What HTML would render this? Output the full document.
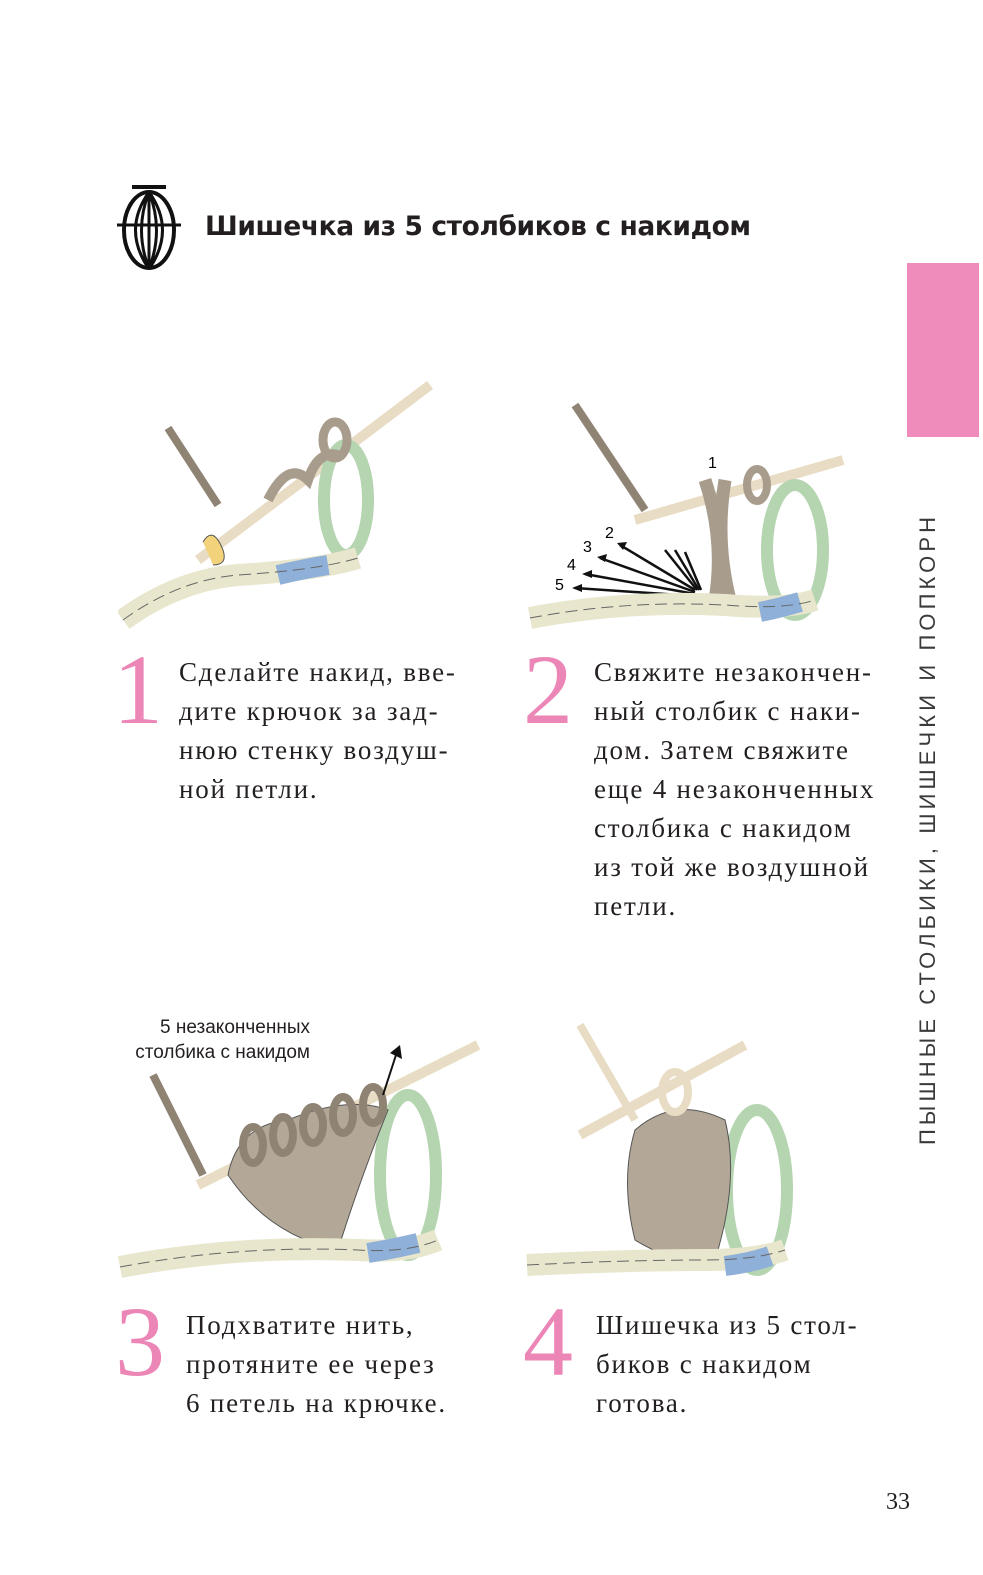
<!DOCTYPE html>
<html><head><meta charset="utf-8"><style>
html,body{margin:0;padding:0;background:#fff;}
body{width:983px;height:1575px;position:relative;overflow:hidden;font-family:"Liberation Serif",serif;color:#231f20;}
.abs{position:absolute;}
.title{left:205px;top:211px;font-family:"DejaVu Sans","Liberation Sans",sans-serif;font-weight:bold;font-size:26.5px;letter-spacing:-0.4px;}
.tab{left:907px;top:263px;width:72px;height:174px;background:#f08cbb;}
.vert{left:928px;top:515px;width:630px;height:26px;transform-origin:0 0;transform:translate(-13px,630px) rotate(-90deg);font-family:"Liberation Sans",sans-serif;font-size:22px;letter-spacing:4.1px;color:#3a3a3a;white-space:nowrap;}
.num{font-family:"Liberation Serif",serif;color:#ec86b6;font-size:100px;line-height:100px;}
.txt{font-size:27px;letter-spacing:1.8px;line-height:39px;white-space:nowrap;}
.lbl{font-family:"Liberation Sans",sans-serif;font-size:19px;line-height:25px;text-align:right;}
</style></head><body>

<svg class="abs" style="left:114px;top:183px" width="70" height="92" viewBox="0 0 70 92">
<line x1="18" y1="4" x2="52" y2="4" stroke="#111" stroke-width="4"/>
<ellipse cx="35" cy="47" rx="25" ry="38" fill="none" stroke="#111" stroke-width="4"/>
<path d="M35 9 Q20 47 35 86 M35 9 Q50 47 35 86 M35 9 L35 86 M35 9 Q8 47 35 86 M35 9 Q62 47 35 86" fill="none" stroke="#111" stroke-width="3"/>
<line x1="3" y1="42" x2="67" y2="42" stroke="#111" stroke-width="3"/>
</svg>
<div class="abs title">Шишечка из 5 столбиков с накидом</div>
<div class="abs tab"></div>
<div class="abs vert">ПЫШНЫЕ СТОЛБИКИ, ШИШЕЧКИ И ПОПКОРН</div>

<!-- illustration 1 -->
<svg class="abs" style="left:118px;top:380px" width="320" height="260" viewBox="0 0 320 260">
<line x1="50" y1="48" x2="100" y2="125" stroke="#8f8474" stroke-width="8"/>
<line x1="80" y1="180" x2="312" y2="5" stroke="#e8dcc4" stroke-width="10"/>
<path d="M85 162 Q95 145 105 170 Q110 185 95 185" fill="#f2d27a" stroke="#555"/>
<ellipse cx="228" cy="120" rx="22" ry="55" fill="none" stroke="#b5d4b0" stroke-width="12"/>
<ellipse cx="217" cy="60" rx="12" ry="18" fill="none" stroke="#a89d8c" stroke-width="9"/>
<path d="M150 120 Q170 80 190 100 Q200 70 220 75" fill="none" stroke="#a89d8c" stroke-width="10"/>
<path d="M5 240 Q60 200 120 195 Q200 190 240 178" fill="none" stroke="#e8e6cc" stroke-width="22"/>
<path d="M160 195 Q185 189 210 185" stroke="#8fb0d8" stroke-width="20"/>
<path d="M5 240 Q60 200 120 195 Q200 190 240 178" fill="none" stroke="#666" stroke-width="1" stroke-dasharray="12 6"/>
</svg>

<!-- illustration 2 -->
<svg class="abs" style="left:525px;top:400px" width="320" height="240" viewBox="0 0 320 240">
<line x1="50" y1="5" x2="120" y2="110" stroke="#8f8474" stroke-width="8"/>
<line x1="110" y1="120" x2="318" y2="60" stroke="#e8dcc4" stroke-width="10"/>
<ellipse cx="270" cy="150" rx="28" ry="65" fill="none" stroke="#b5d4b0" stroke-width="12"/>
<path d="M180 80 Q200 140 190 200 M200 80 Q190 140 205 200" stroke="#a89d8c" stroke-width="13" fill="none"/>
<ellipse cx="232" cy="85" rx="10" ry="16" fill="none" stroke="#a89d8c" stroke-width="8"/>
<text x="183" y="68" font-family="Liberation Sans" font-size="16">1</text>
<text x="80" y="138" font-family="Liberation Sans" font-size="16">2</text>
<text x="58" y="152" font-family="Liberation Sans" font-size="16">3</text>
<text x="42" y="170" font-family="Liberation Sans" font-size="16">4</text>
<text x="30" y="190" font-family="Liberation Sans" font-size="16">5</text>
<g stroke="#111" stroke-width="2.5"><line x1="170" y1="190" x2="95" y2="145"/><line x1="170" y1="192" x2="75" y2="158"/><line x1="170" y1="194" x2="60" y2="174"/><line x1="170" y1="196" x2="50" y2="188"/>
<line x1="172" y1="190" x2="140" y2="150"/><line x1="174" y1="190" x2="150" y2="150"/><line x1="176" y1="190" x2="160" y2="152"/></g>
<g fill="#111"><path d="M92 143 l10 -1 l-4 8z"/><path d="M72 157 l10 -3 l-2 8z"/><path d="M57 174 l10 -4 l0 8z"/><path d="M47 188 l10 -4 l0 8z"/></g>
<path d="M5 218 Q100 200 200 205 Q260 210 290 200" fill="none" stroke="#e8e6cc" stroke-width="22"/>
<path d="M235 212 Q255 208 275 202" stroke="#8fb0d8" stroke-width="20"/>
<path d="M5 218 Q100 200 200 205 Q260 210 290 200" fill="none" stroke="#666" stroke-width="1" stroke-dasharray="12 6"/>
</svg>

<!-- illustration 3 -->
<div class="abs lbl" style="left:90px;top:1015px;width:220px">5 незаконченных<br>столбика с накидом</div>
<svg class="abs" style="left:118px;top:1035px" width="365" height="255" viewBox="0 0 365 255">
<line x1="35" y1="40" x2="85" y2="140" stroke="#8f8474" stroke-width="8"/>
<line x1="80" y1="150" x2="360" y2="10" stroke="#e8dcc4" stroke-width="10"/>
<ellipse cx="290" cy="140" rx="28" ry="80" fill="none" stroke="#b5d4b0" stroke-width="12"/>
<path d="M110 140 Q120 90 170 85 Q230 60 270 75 Q240 150 220 215 Q150 200 110 140Z" fill="#b3a898" stroke="#555"/>
<g fill="none" stroke="#8f8474" stroke-width="8"><ellipse cx="135" cy="110" rx="10" ry="18"/><ellipse cx="165" cy="100" rx="10" ry="18"/><ellipse cx="195" cy="90" rx="10" ry="18"/><ellipse cx="225" cy="80" rx="10" ry="18"/><ellipse cx="255" cy="70" rx="10" ry="18"/></g>
<path d="M265 60 L278 20" stroke="#111" stroke-width="2"/><path d="M272 18 L282 10 L284 24Z" fill="#111"/>
<path d="M2 232 Q120 210 240 215 Q290 218 320 205" fill="none" stroke="#e8e6cc" stroke-width="22"/>
<path d="M250 218 Q275 214 300 208" stroke="#8fb0d8" stroke-width="20"/>
<path d="M2 232 Q120 210 240 215 Q290 218 320 205" fill="none" stroke="#666" stroke-width="1" stroke-dasharray="12 6"/>
</svg>

<!-- illustration 4 -->
<svg class="abs" style="left:525px;top:1020px" width="270" height="270" viewBox="0 0 270 270">
<line x1="55" y1="5" x2="110" y2="100" stroke="#e8dcc4" stroke-width="8"/>
<line x1="55" y1="115" x2="220" y2="25" stroke="#e8dcc4" stroke-width="10"/>
<ellipse cx="232" cy="170" rx="30" ry="80" fill="none" stroke="#b5d4b0" stroke-width="12"/>
<path d="M110 110 Q150 75 200 100 Q215 160 190 240 Q150 245 110 220 Q95 160 110 110Z" fill="#b3a898" stroke="#555"/>
<ellipse cx="150" cy="72" rx="13" ry="20" fill="none" stroke="#e8dcc4" stroke-width="8"/>
<path d="M2 245 Q100 240 180 240 Q230 240 260 230" fill="none" stroke="#e8e6cc" stroke-width="22"/>
<path d="M200 246 Q225 243 245 236" stroke="#8fb0d8" stroke-width="20"/>
<path d="M2 245 Q100 240 180 240 Q230 240 260 230" fill="none" stroke="#666" stroke-width="1" stroke-dasharray="12 6"/>
</svg>

<div class="abs num" style="left:113px;top:640px">1</div>
<div class="abs txt" style="left:179px;top:653px">Сделайте накид, вве-<br>дите крючок за зад-<br>нюю стенку воздуш-<br>ной петли.</div>

<div class="abs num" style="left:523px;top:640px">2</div>
<div class="abs txt" style="left:594px;top:653px">Свяжите незакончен-<br>ный столбик с наки-<br>дом. Затем свяжите<br>еще 4 незаконченных<br>столбика с накидом<br>из той же воздушной<br>петли.</div>

<div class="abs num" style="left:115px;top:1292px">3</div>
<div class="abs txt" style="left:186px;top:1306px">Подхватите нить,<br>протяните ее через<br>6 петель на крючке.</div>

<div class="abs num" style="left:523px;top:1292px">4</div>
<div class="abs txt" style="left:596px;top:1306px">Шишечка из 5 стол-<br>биков с накидом<br>готова.</div>

<div class="abs" style="left:886px;top:1489px;font-size:24px">33</div>
</body></html>
